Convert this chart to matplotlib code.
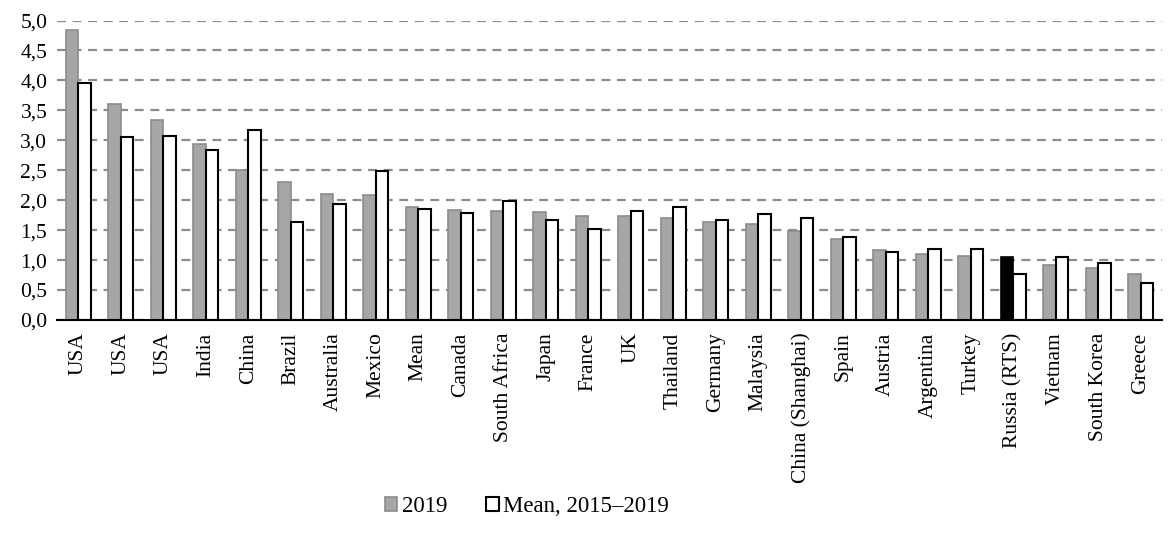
import numpy as np
import matplotlib.pyplot as plt
from matplotlib.patches import Patch

plt.rcParams['font.family'] = ['Liberation Serif', 'DejaVu Serif']

# Data
countries = ["USA", "USA", "USA", "India", "China", "Brazil", "Australia", "Mexico",
             "Mean", "Canada", "South Africa", "Japan", "France", "UK", "Thailand",
             "Germany", "Malaysia", "China (Shanghai)", "Spain", "Austria", "Argentina",
             "Turkey", "Russia (RTS)", "Vietnam", "South Korea", "Greece"]
values_2019 = [4.84, 3.61, 3.34, 2.94, 2.51, 2.30, 2.11, 2.08,
               1.89, 1.83, 1.82, 1.80, 1.74, 1.74, 1.70,
               1.64, 1.60, 1.49, 1.35, 1.17, 1.10,
               1.07, 1.05, 0.91, 0.86, 0.77]
values_mean = [3.96, 3.05, 3.07, 2.83, 3.18, 1.63, 1.94, 2.49,
               1.85, 1.79, 1.99, 1.67, 1.52, 1.82, 1.89,
               1.67, 1.77, 1.71, 1.38, 1.14, 1.18,
               1.19, 0.77, 1.05, 0.95, 0.62]
highlight = "Russia (RTS)"

fig = plt.figure(figsize=(11.73, 5.47), dpi=100)
ax = fig.add_axes([0.0486, 0.415, 0.9420, 0.5475])

x = np.arange(len(countries))
w = 0.29
colors_2019 = ['black' if c == highlight else '#a6a6a6' for c in countries]
edges_2019 = ['black' if c == highlight else '#8c8c8c' for c in countries]

ax.bar(x - w / 2, values_2019, width=w, color=colors_2019, edgecolor=edges_2019,
       linewidth=1.2, zorder=3)
ax.bar(x + w / 2, values_mean, width=w, color='white', edgecolor='black',
       linewidth=1.5, zorder=3)

ax.set_ylim(0, 5.0)
ax.set_xlim(-0.5, len(countries) - 0.5)
ax.set_yticks(np.arange(0, 5.01, 0.5))
ax.set_yticklabels([f"{v:.1f}".replace('.', ',') for v in np.arange(0, 5.01, 0.5)])
ax.set_xticks(x)
ax.set_xticklabels(countries, rotation=90, va='top', ha='center')
ax.tick_params(axis='both', length=0, labelsize=15.5)
ax.tick_params(axis='x', pad=9)
ax.tick_params(axis='y', pad=7)

ax.yaxis.grid(True, linestyle=(0, (4, 3)), color='#8c8c8c', linewidth=1.6, zorder=0)
ax.set_axisbelow(True)
for s in ['top', 'right', 'left']:
    ax.spines[s].set_visible(False)
ax.spines['bottom'].set_color('black')
ax.spines['bottom'].set_linewidth(1.5)
ax.spines['bottom'].set_zorder(4)

handles = [Patch(facecolor='#a6a6a6', edgecolor='#8c8c8c', linewidth=1.2, label='2019'),
           Patch(facecolor='white', edgecolor='black', linewidth=1.5, label='Mean, 2015–2019')]
fig.legend(handles=handles, loc='center', bbox_to_anchor=(527 / 1173, 1 - 507 / 547),
           ncol=2, frameon=False, fontsize=16.5, handlelength=0.55, handleheight=0.55,
           handletextpad=0.2, columnspacing=1.7)

fig.savefig('out.png', dpi=100)
